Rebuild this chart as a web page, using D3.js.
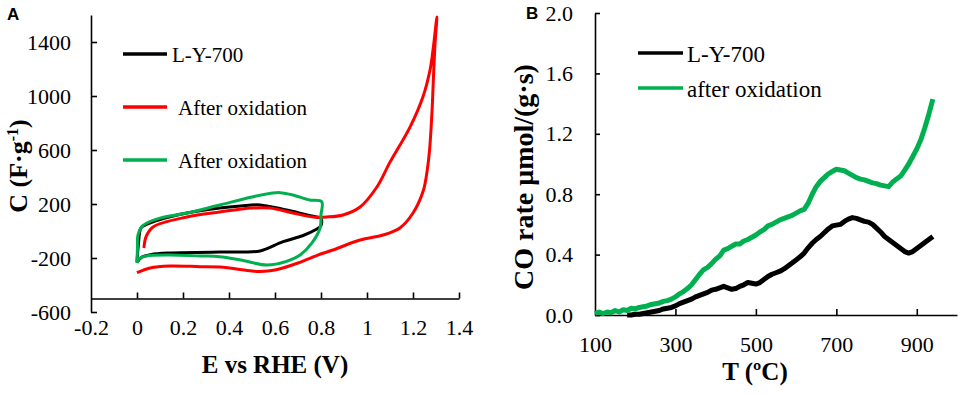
<!DOCTYPE html>
<html>
<head>
<meta charset="utf-8">
<script src="https://cdn.jsdelivr.net/npm/d3@7"></script>
<style>
  body { margin: 0; background: #fff; }
  svg { display: block; }
  .axis path, .axis line { stroke: #000; stroke-width: 1.6; }
</style>
</head>
<body>
<div class="svg-container"></div>
<script>
// ---- Panel A: cyclic voltammetry (E in V, C in F/g), points in scan order ----
var lyE  = [0, 0.005, 0.017, 0.035, 0.1, 0.217, 0.36, 0.45, 0.535, 0.65, 0.74, 0.78, 0.8, 0.8, 0.774, 0.72, 0.635, 0.535, 0.45, 0.36, 0.143, 0.06, 0.02, 0];
var lyC  = [-230, -120, 22, 44, 85, 133, 170, 185, 193, 155, 119, 104, 95, 40, 7, -35, -79, -148, -155, -156, -163, -175, -195, -232];

var redE = [0.03, 0.04, 0.07, 0.217, 0.36, 0.5, 0.578, 0.678, 0.765, 0.826, 0.896, 0.97, 1.043, 1.1, 1.187, 1.243, 1.274, 1.287, 1.304,
            1.296, 1.289, 1.283, 1.272, 1.262, 1.245, 1.2, 1.143, 1.07, 0.97, 0.852, 0.783, 0.7, 0.6, 0.535, 0.5, 0.36, 0.274, 0.143, 0.057, 0];
var redC = [-126, -40, 30, 104, 141, 170, 170, 133, 104, 104, 119, 178, 326, 510, 770, 993, 1193, 1341, 1585,
            1393, 1141, 896, 600, 452, 300, 133, 22, -30, -67, -141, -180, -237, -289, -300, -296, -267, -264, -259, -274, -309];

var grnE = [0, 0.002, 0.004, 0.02, 0.043, 0.1, 0.217, 0.36, 0.5, 0.59, 0.622, 0.678, 0.75, 0.803,
            0.8, 0.796, 0.76, 0.709, 0.65, 0.565, 0.45, 0.36, 0.274, 0.143, 0.04, 0.01, 0];
var grnC = [-237, -120, -30, 30, 59, 95, 133, 193, 252, 281, 284, 267, 230, 217,
            120, 22, -90, -178, -225, -252, -215, -190, -185, -178, -185, -205, -237];

var aYTicks = [-600, -200, 200, 600, 1000, 1400];
var aXTicks = [-0.2, 0, 0.2, 0.4, 0.6, 0.8, 1, 1.2, 1.4];
var aLegend = ["L-Y-700", "After oxidation", "After oxidation"];

// ---- Panel B: CO release rate vs temperature ----
var tGreen = [100, 110, 120, 130, 140, 150, 160, 170, 180, 190, 200, 210, 220, 230, 240, 250, 260, 270, 280, 290,
              300, 310, 320, 330, 340, 350, 360, 370, 380, 390, 400, 410, 420, 430, 440, 450, 460, 470, 480, 490,
              500, 510, 520, 530, 540, 550, 560, 570, 580, 590, 600, 610, 620, 630, 640, 650, 660, 670, 680, 690,
              700, 710, 720, 730, 740, 750, 760, 770, 780, 790, 800, 810, 820, 830, 840, 850, 860, 870, 880, 890,
              900, 910, 920, 930, 940];
var coGreen = [0.01, 0.02, 0.01, 0.02, 0.015, 0.03, 0.02, 0.035, 0.03, 0.045, 0.04, 0.05, 0.055, 0.06, 0.07, 0.075, 0.08, 0.09, 0.095, 0.105,
               0.12, 0.14, 0.155, 0.175, 0.2, 0.235, 0.27, 0.3, 0.315, 0.34, 0.37, 0.39, 0.43, 0.44, 0.455, 0.47, 0.47, 0.49, 0.5, 0.515,
               0.53, 0.55, 0.565, 0.59, 0.6, 0.615, 0.63, 0.64, 0.65, 0.66, 0.675, 0.69, 0.7, 0.74, 0.8, 0.85, 0.885, 0.91, 0.935, 0.95,
               0.965, 0.96, 0.955, 0.94, 0.925, 0.91, 0.9, 0.895, 0.885, 0.875, 0.87, 0.86, 0.855, 0.85, 0.88, 0.9, 0.92, 0.96, 1.0, 1.05,
               1.1, 1.16, 1.24, 1.33, 1.43];

var tBlack = [180, 190, 200, 210, 220, 230, 240, 250, 260, 270, 280, 290,
              300, 310, 320, 330, 340, 350, 360, 370, 380, 390, 400, 410, 420, 430, 440, 450, 460, 470, 480, 490,
              500, 510, 520, 530, 540, 550, 560, 570, 580, 590, 600, 610, 620, 630, 640, 650, 660, 670, 680, 690,
              700, 710, 720, 730, 740, 750, 760, 770, 780, 790, 800, 810, 820, 830, 840, 850, 860, 870, 880, 890,
              900, 910, 920, 930, 940];
var coBlack = [0, 0, 0.005, 0.005, 0.01, 0.015, 0.02, 0.025, 0.03, 0.04, 0.045, 0.05,
               0.06, 0.075, 0.085, 0.095, 0.105, 0.12, 0.13, 0.14, 0.15, 0.165, 0.17, 0.18, 0.19, 0.18, 0.17, 0.175, 0.19, 0.2, 0.215, 0.21,
               0.205, 0.215, 0.235, 0.255, 0.27, 0.28, 0.29, 0.305, 0.325, 0.345, 0.365, 0.385, 0.41, 0.445, 0.475, 0.5, 0.52, 0.545, 0.57, 0.59,
               0.595, 0.6, 0.62, 0.635, 0.645, 0.64, 0.63, 0.62, 0.615, 0.6, 0.575, 0.55, 0.52, 0.5, 0.48, 0.46, 0.44, 0.42, 0.41, 0.42,
               0.44, 0.46, 0.48, 0.5, 0.52];

var bYTicks = [0, 0.4, 0.8, 1.2, 1.6, 2.0];
var bXTicks = [100, 300, 500, 700, 900];
var bLegend = ["L-Y-700", "after oxidation"];

var RED = "#ff0000", GREEN = "#00b050", BLACK = "#000000";
var SERIF = "'Liberation Serif', 'Times New Roman', serif";

function zip(a, b) {
    var out = [];
    for (let i = 0; i < a.length; i++) out.push({x: a[i], y: b[i]});
    return out;
}

// plain hyphen for negatives, like the original
function fmtNum(digits) {
    return function(d) {
        var s = digits === null ? String(+d.toFixed(1)) : d.toFixed(digits);
        return s.replace("\u2212", "-");
    };
}

function styleAxis(g) {
    g.attr("font-family", null).attr("font-size", null);
    g.selectAll("text")
        .style("font-family", SERIF)
        .style("font-size", "22px")
        .attr("fill", "#000");
}

var svg = d3.select(".svg-container").append("svg")
    .attr("width", 961)
    .attr("height", 395);

/* PANEL A */
var xA = d3.scaleLinear().domain([-0.2, 1.4]).range([91, 459]);
var yA = d3.scaleLinear().domain([-600, 1600]).range([312, 15]);

svg.append("g")
    .attr("class", "axis")
    .attr("transform", "translate(" + xA(-0.2) + ",0)")
    .call(d3.axisLeft(yA).tickValues(aYTicks).tickSizeInner(-6).tickSizeOuter(0).tickPadding(20)
        .tickFormat(fmtNum(0)))
    .call(styleAxis);

var axA = svg.append("g")
    .attr("class", "axis")
    .attr("transform", "translate(0," + yA(-500) + ")")
    .call(d3.axisBottom(xA).tickValues(aXTicks).tickSizeInner(-6).tickSizeOuter(0).tickPadding(21)
        .tickFormat(fmtNum(null)))
    .call(styleAxis);
axA.selectAll(".tick line").filter(function(d) { return d === -0.2; }).remove();

var lineA = d3.line()
    .x(function(d) { return xA(d.x); })
    .y(function(d) { return yA(d.y); })
    .curve(d3.curveCatmullRom.alpha(0.5));

[[lyE, lyC, BLACK], [redE, redC, RED], [grnE, grnC, GREEN]].forEach(function(s) {
    svg.append("path")
        .datum(zip(s[0], s[1]))
        .attr("fill", "none")
        .attr("stroke", s[2])
        .attr("stroke-width", 3)
        .attr("stroke-linejoin", "round")
        .attr("d", lineA);
});

// legend A
[BLACK, RED, GREEN].forEach(function(c, i) {
    var y = 54 + i * 53;
    svg.append("line").attr("x1", 123).attr("x2", 167).attr("y1", y).attr("y2", y)
        .attr("stroke", c).attr("stroke-width", 3.5);
    svg.append("text").attr("x", i === 0 ? 172 : 178).attr("y", y + 8)
        .style("font-family", SERIF).style("font-size", "21px").text(aLegend[i]);
});

// titles A
svg.append("text").attr("x", 275).attr("y", 373).attr("text-anchor", "middle")
    .style("font-family", SERIF).style("font-size", "25px").style("font-weight", "bold")
    .text("E vs RHE (V)");

var tA = svg.append("text")
    .attr("transform", "translate(27,166) rotate(-90)")
    .attr("text-anchor", "middle")
    .style("font-family", SERIF).style("font-size", "26px").style("font-weight", "bold");
tA.append("tspan").text("C (F·g");
tA.append("tspan").attr("dy", -9).style("font-size", "16px").text("-1");
tA.append("tspan").attr("dy", 9).text(")");

svg.append("text").attr("x", 7).attr("y", 20)
    .style("font-family", "'Liberation Sans', Arial, sans-serif")
    .style("font-size", "17px").style("font-weight", "bold").text("A");

/* PANEL B */
var xB = d3.scaleLinear().domain([100, 1000]).range([595, 957]);
var yB = d3.scaleLinear().domain([0, 2]).range([315, 13]);

svg.append("g")
    .attr("class", "axis")
    .attr("transform", "translate(" + xB(100) + ",0)")
    .call(d3.axisLeft(yB).tickValues(bYTicks).tickSizeInner(-5).tickSizeOuter(0).tickPadding(22)
        .tickFormat(fmtNum(1)))
    .call(styleAxis);

var axB = svg.append("g")
    .attr("class", "axis")
    .attr("transform", "translate(0," + yB(0) + ")")
    .call(d3.axisBottom(xB).tickValues(bXTicks).tickSizeInner(-6).tickSizeOuter(0).tickPadding(21)
        .tickFormat(fmtNum(0)))
    .call(styleAxis);
axB.selectAll(".tick line").filter(function(d) { return d === 100; }).remove();

var lineB = d3.line()
    .x(function(d) { return xB(d.x); })
    .y(function(d) { return yB(d.y); });

[[tBlack, coBlack, BLACK], [tGreen, coGreen, GREEN]].forEach(function(s) {
    svg.append("path")
        .datum(zip(s[0], s[1]))
        .attr("fill", "none")
        .attr("stroke", s[2])
        .attr("stroke-width", 5)
        .attr("stroke-linejoin", "round")
        .attr("d", lineB);
});

// legend B
[BLACK, GREEN].forEach(function(c, i) {
    var y = 53 + i * 35;
    svg.append("line").attr("x1", 638).attr("x2", 683).attr("y1", y).attr("y2", y)
        .attr("stroke", c).attr("stroke-width", 3.5);
    svg.append("text").attr("x", 687).attr("y", y + 9)
        .style("font-family", SERIF).style("font-size", "23px").text(bLegend[i]);
});

// titles B
svg.append("text").attr("x", 755).attr("y", 380).attr("text-anchor", "middle")
    .style("font-family", SERIF).style("font-size", "25px").style("font-weight", "bold")
    .text("T (ºC)");

svg.append("text")
    .attr("transform", "translate(533,177) rotate(-90)")
    .attr("text-anchor", "middle")
    .style("font-family", SERIF).style("font-size", "28px").style("font-weight", "bold")
    .text("CO rate μmol/(g·s)");

svg.append("text").attr("x", 526).attr("y", 19)
    .style("font-family", "'Liberation Sans', Arial, sans-serif")
    .style("font-size", "17px").style("font-weight", "bold").text("B");
</script>
</body>
</html>
